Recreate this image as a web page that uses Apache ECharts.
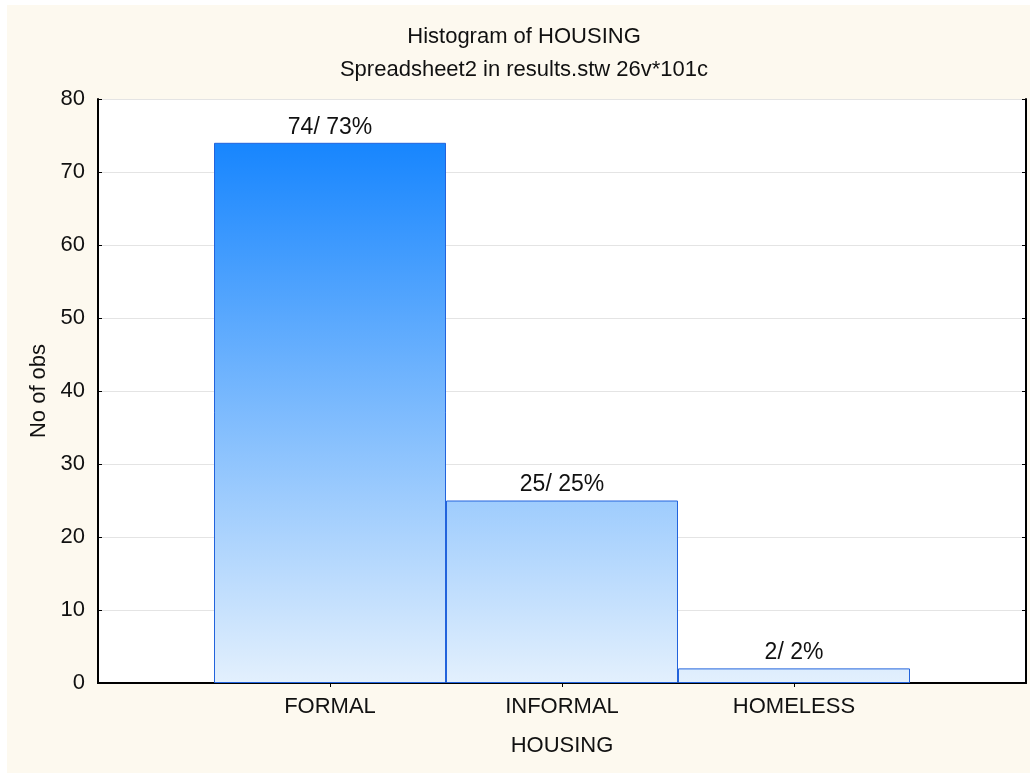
<!DOCTYPE html>
<html>
<head>
<meta charset="utf-8">
<script src="https://cdn.jsdelivr.net/npm/echarts@6/dist/echarts.min.js"></script>
<style>
  html, body { margin: 0; padding: 0; background: #fff; }
  #wrap { position: relative; width: 1030px; height: 773px; background: #fff; }
  #chart { position: absolute; left: 7px; top: 5px; width: 1023px; height: 768px; background: #fdf9ef; }
</style>
</head>
<body>
<div id="wrap"><div id="chart"></div></div>
<script>
// categories padded with blank slots on each side (the histogram leaves half-empty ends)
const categories = ["", "FORMAL", "INFORMAL", "HOMELESS", ""];
const counts = ["-", 74, 25, 2, "-"];
const percents = ["-", 73, 25, 2, "-"];
const yTicks = [0, 10, 20, 30, 40, 50, 60, 70, 80];

const font = "'Liberation Sans', Arial, sans-serif";

var myChart = echarts.init(document.getElementById("chart"));

const barGradient = new echarts.graphic.LinearGradient(0, 140, 0, 678, [
  { offset: 0, color: "#1886fe" },
  { offset: 1, color: "#e3f0fd" },
], true);

// only the real categories get a tick, not the padded ends
const midTicks = (idx) => idx > 0 && idx < categories.length - 1;

myChart.setOption({
  backgroundColor: "transparent",
  animation: false,
  title: {
    text: "Histogram of HOUSING",
    subtext: "Spreadsheet2 in results.stw 26v*101c",
    left: 512,
    textAlign: "center",
    top: 16,
    itemGap: 11,
    textStyle: { fontFamily: font, fontSize: 22, fontWeight: "normal", color: "#111" },
    subtextStyle: { fontFamily: font, fontSize: 22, color: "#111" },
  },
  grid: {
    left: 91,
    right: 4,
    top: 94,
    bottom: 90,
    show: true,
    backgroundColor: "#fff",
    borderWidth: 0,
  },
  xAxis: [
    {
      type: "category",
      data: categories,
      boundaryGap: false,
      position: "bottom",
      name: "HOUSING",
      nameLocation: "middle",
      nameGap: 52,
      nameTextStyle: { fontFamily: font, fontSize: 22, color: "#111" },
      axisLine: { lineStyle: { color: "#000", width: 2 } },
      axisTick: { show: true, inside: true, length: 4, interval: midTicks, lineStyle: { color: "#000" } },
      axisLabel: { interval: 0, margin: 13, fontFamily: font, fontSize: 22, color: "#111" },
      splitLine: { show: false },
    },
    {
      type: "category",
      data: categories,
      boundaryGap: false,
      position: "top",
      axisLine: { lineStyle: { color: "#000", width: 2 } },
      axisTick: { show: true, inside: true, length: 4, interval: midTicks, lineStyle: { color: "#000" } },
      axisLabel: { show: false },
      splitLine: { show: false },
    },
  ],
  yAxis: [
    {
      type: "value",
      min: yTicks[0],
      max: yTicks[yTicks.length - 1],
      interval: 10,
      position: "left",
      name: "No of obs",
      nameLocation: "middle",
      nameGap: 48,
      nameTextStyle: { fontFamily: font, fontSize: 22, color: "#111" },
      axisLine: { show: true, lineStyle: { color: "#000", width: 2 } },
      axisTick: { show: true, inside: true, length: 4, lineStyle: { color: "#000" } },
      axisLabel: { margin: 13, fontFamily: font, fontSize: 22, color: "#111" },
      splitLine: { show: true, lineStyle: { color: "#e4e4e4", width: 1 } },
    },
    {
      type: "value",
      min: yTicks[0],
      max: yTicks[yTicks.length - 1],
      interval: 10,
      position: "right",
      axisLine: { show: true, lineStyle: { color: "#000", width: 2 } },
      axisTick: { show: true, inside: true, length: 4, lineStyle: { color: "#000" } },
      axisLabel: { show: false },
      splitLine: { show: false },
    },
  ],
  series: [
    {
      type: "bar",
      xAxisIndex: 0,
      yAxisIndex: 0,
      data: counts,
      barCategoryGap: "0%",
      itemStyle: {
        color: barGradient,
        borderColor: "#2263dc",
        borderWidth: 1,
      },
      label: {
        show: true,
        position: "top",
        distance: 4,
        fontFamily: font,
        fontSize: 23,
        color: "#111",
        formatter: (p) => p.value + "/ " + percents[p.dataIndex] + "%",
      },
    },
  ],
});
</script>
</body>
</html>
